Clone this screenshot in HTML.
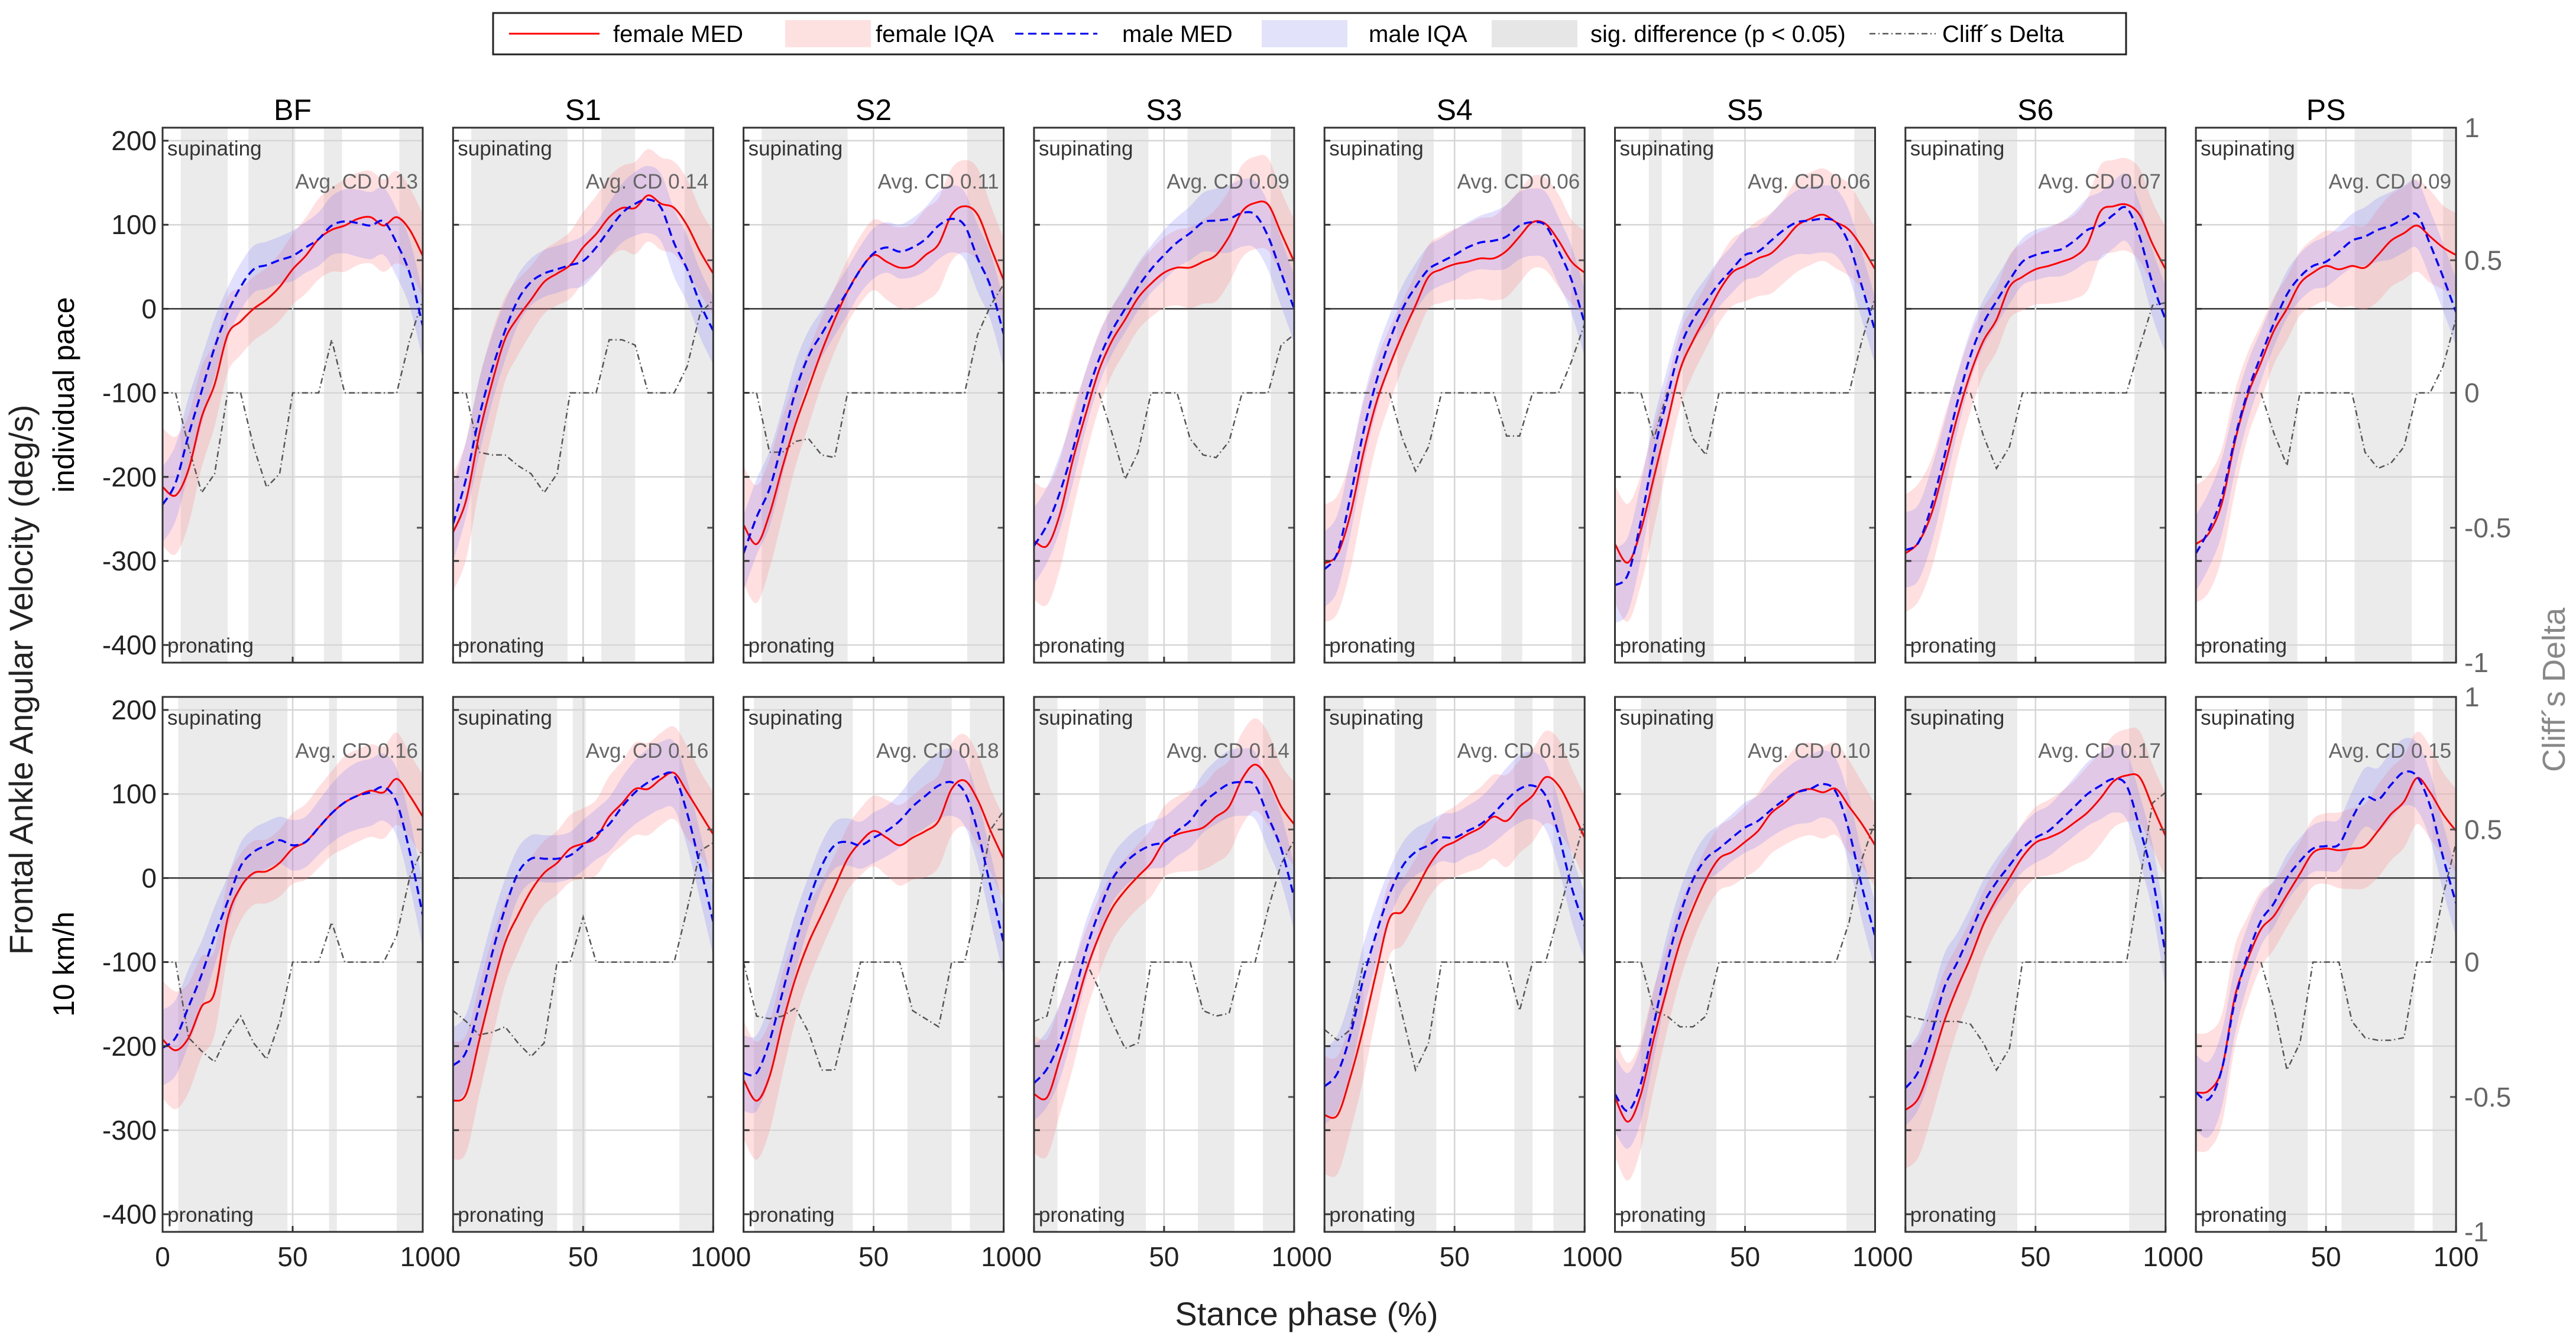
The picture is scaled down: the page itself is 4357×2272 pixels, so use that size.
<!DOCTYPE html>
<html><head><meta charset="utf-8"><title>Frontal Ankle Angular Velocity</title>
<style>
html,body{margin:0;padding:0;background:#fff;}
svg{display:block;font-family:"Liberation Sans",Arial,sans-serif;}
</style></head>
<body>
<svg id="chart" xmlns="http://www.w3.org/2000/svg" width="4357" height="2272" viewBox="0 0 4357 2272">
<rect x="0" y="0" width="4357" height="2272" fill="#fff"/>
<g>
<rect x="834" y="22" width="2762" height="70" fill="#fff" stroke="#222" stroke-width="3"/>
<line x1="861" y1="57" x2="1014" y2="57" stroke="#f00" stroke-width="3"/>
<text x="1037" y="71" font-size="40" fill="#000">female MED</text>
<rect x="1328" y="34" width="145" height="46" fill="#fde0e0"/>
<text x="1481" y="71" font-size="40" fill="#000">female IQA</text>
<line x1="1717" y1="57" x2="1856" y2="57" stroke="#00f" stroke-width="3" stroke-dasharray="14 8"/>
<text x="1898" y="71" font-size="40" fill="#000">male MED</text>
<rect x="2134" y="34" width="145" height="46" fill="#e2e2fb"/>
<text x="2315" y="71" font-size="40" fill="#000">male IQA</text>
<rect x="2523" y="34" width="145" height="46" fill="#e6e6e6"/>
<text x="2690" y="71" font-size="40" fill="#000">sig. difference (p &lt; 0.05)</text>
<line x1="3162" y1="57" x2="3274" y2="57" stroke="#555" stroke-width="2.5" stroke-dasharray="10 5 2 5"/>
<text x="3285" y="71" font-size="40" fill="#000">Cliff´s Delta</text>
</g>
<text x="55" y="1150" font-size="56" fill="#222" text-anchor="middle" transform="rotate(-90 55 1150)">Frontal Ankle Angular Velocity (deg/s)</text>
<text x="125" y="668" font-size="50" fill="#000" text-anchor="middle" transform="rotate(-90 125 668)">individual pace</text>
<text x="125" y="1631" font-size="50" fill="#000" text-anchor="middle" transform="rotate(-90 125 1631)">10  km/h</text>
<text x="4338" y="1167" font-size="54" fill="#888" text-anchor="middle" transform="rotate(-90 4338 1167)">Cliff´s Delta</text>
<text x="2210" y="2242" font-size="56" fill="#222" text-anchor="middle">Stance phase (%)</text>
<g id="plots"></g>
</svg>
<script>
const panelNames = ["BF","S1","S2","S3","S4","S5","S6","PS"];
const xPct = [0,5,10,15,20,25,30,35,40,45,50,55,60,65,70,75,80,85,90,95,100];
const yTicks = [200,100,0,-100,-200,-300,-400];
const cdTicks = [1,0.5,0,-0.5,-1];
const cdTickLabels = ["1","0.5","0","-0.5","-1"];
const xTicks = [0,50,100];
const avgCdRow1 = ["0.13","0.14","0.11","0.09","0.06","0.06","0.07","0.09"];
const avgCdRow2 = ["0.16","0.16","0.18","0.14","0.15","0.10","0.17","0.15"];
const femaleHalf = [70,70,65,60,50,45,40,38,38,40,42,45,48,50,55,55,55,55,55,50,50];
const maleHalf = [45,45,45,40,35,30,28,28,28,28,30,30,32,35,38,40,40,40,40,40,40];
const femaleMedRow1 = [
[-212,-222,-191,-129,-90,-31,-15,0,11,26,47,63,83,94,99,107,109,99,109,94,63],
[-266,-228,-150,-88,-36,-10,11,32,42,52,73,89,109,120,120,135,125,120,99,68,42],
[-257,-280,-244,-188,-137,-94,-51,-13,21,47,64,56,49,51,64,77,112,122,112,73,34],
[-276,-282,-244,-179,-124,-73,-38,-13,13,30,43,49,49,56,64,86,116,126,124,90,56],
[-303,-292,-244,-171,-111,-68,-30,4,38,47,53,56,60,60,69,86,103,101,81,56,43],
[-280,-302,-263,-200,-137,-73,-38,-9,21,43,51,60,66,81,99,107,112,103,94,73,47],
[-291,-278,-244,-188,-128,-77,-38,-13,26,38,47,51,56,62,77,116,122,124,112,77,47],
[-280,-267,-231,-158,-102,-64,-26,0,30,43,51,47,51,49,64,81,90,99,86,73,64]];
const maleMedRow1 = [
[-233,-207,-150,-98,-46,-5,26,47,52,58,63,73,83,99,104,102,99,104,78,42,-20],
[-256,-202,-129,-72,-26,11,32,42,47,52,57,73,94,114,125,130,120,78,47,6,-26],
[-291,-248,-214,-158,-98,-56,-30,-4,21,47,66,73,68,73,83,99,107,99,60,26,-30],
[-282,-257,-218,-167,-107,-60,-26,0,26,47,64,79,90,103,105,107,114,112,86,43,0],
[-310,-290,-223,-146,-86,-38,0,26,47,56,64,73,79,81,86,99,103,99,69,34,-17],
[-329,-316,-252,-171,-107,-47,-13,9,30,47,64,68,81,94,103,105,107,103,77,26,-26],
[-287,-278,-235,-175,-111,-56,-17,9,34,56,64,68,71,81,94,99,112,120,86,30,-13],
[-291,-263,-223,-154,-98,-56,-17,17,38,51,56,68,81,86,94,99,107,112,77,38,-4]];
const femaleMedRow2 = [
[-192,-205,-190,-153,-136,-48,-11,6,8,18,35,43,60,77,90,98,104,102,118,98,73],
[-265,-257,-194,-132,-77,-44,-15,6,18,35,41,48,73,89,106,106,118,125,102,77,52],
[-240,-265,-236,-173,-119,-77,-44,-11,23,43,56,48,39,48,56,68,106,116,93,56,23],
[-257,-261,-215,-165,-111,-69,-36,-15,2,18,43,52,56,60,73,85,118,135,118,85,64],
[-282,-282,-236,-178,-111,-48,-40,-15,14,35,43,52,60,73,68,85,98,120,110,81,48],
[-261,-290,-257,-190,-132,-77,-36,-2,23,31,43,56,77,89,102,106,102,106,85,64,39],
[-276,-262,-220,-170,-130,-95,-55,-25,0,25,42,48,55,66,78,95,115,122,120,85,50],
[-255,-253,-227,-141,-96,-61,-45,-20,5,30,35,33,35,38,56,76,91,119,102,76,56]];
const maleMedRow2 = [
[-202,-190,-153,-115,-69,-28,14,31,39,45,39,43,60,77,90,98,102,108,90,31,-44],
[-223,-207,-153,-90,-36,6,23,23,23,27,39,52,64,85,102,114,122,122,77,14,-52],
[-232,-232,-194,-136,-77,-28,14,39,43,39,48,56,68,85,98,110,114,102,56,-11,-77],
[-244,-227,-194,-144,-86,-40,-2,18,31,39,43,56,68,89,102,112,114,110,73,35,-23],
[-248,-232,-186,-119,-65,-19,14,31,39,48,48,56,64,77,93,106,110,98,52,-11,-57],
[-257,-277,-244,-173,-102,-44,-2,23,35,48,60,68,81,93,102,106,112,102,56,-11,-69],
[-250,-230,-185,-130,-100,-65,-30,-5,15,35,48,56,70,85,100,110,118,110,60,0,-91],
[-255,-263,-227,-146,-91,-51,-30,0,20,35,38,40,71,96,93,111,126,121,86,25,-30]];
const cliffsDeltaRow1 = [
[0,0,-0.2,-0.37,-0.3,0,0,-0.2,-0.35,-0.3,0,0,0,0.2,0,0,0,0,0,0.2,0.35],
[0,0,-0.22,-0.23,-0.23,-0.27,-0.3,-0.37,-0.3,0,0,0,0.2,0.2,0.18,0,0,0,0.1,0.3,0.35],
[0,0,-0.22,-0.22,-0.18,-0.17,-0.23,-0.24,0,0,0,0,0,0,0,0,0,0,0.22,0.33,0.41],
[0,0,0,0,0,0,-0.15,-0.32,-0.22,0,0,0,-0.17,-0.23,-0.24,-0.18,0,0,0,0.18,0.22],
[0,0,0,0,0,0,-0.17,-0.29,-0.2,0,0,0,0,0,-0.16,-0.16,0,0,0,0.12,0.26],
[0,0,0,-0.17,0,0,-0.17,-0.23,0,0,0,0,0,0,0,0,0,0,0,0.2,0.36],
[0,0,0,0,0,0,-0.16,-0.28,-0.2,0,0,0,0,0,0,0,0,0,0.17,0.33,0.34],
[0,0,0,0,0,0,-0.15,-0.27,0,0,0,0,0,-0.22,-0.28,-0.26,-0.2,0,0,0.1,0.28]];
const cliffsDeltaRow2 = [
[0,0,-0.28,-0.33,-0.37,-0.27,-0.2,-0.3,-0.36,-0.22,0,0,0,0.15,0,0,0,0,0.1,0.32,0.43],
[-0.18,-0.22,-0.27,-0.26,-0.24,-0.3,-0.35,-0.3,0,0,0.17,0,0,0,0,0,0,0,0.2,0.42,0.45],
[0,-0.2,-0.21,-0.2,-0.17,-0.26,-0.4,-0.4,-0.2,0,0,0,0,-0.18,-0.21,-0.24,0,0,0.22,0.5,0.57],
[-0.22,-0.2,0,0,0,-0.1,-0.22,-0.32,-0.3,0,0,0,0,-0.18,-0.2,-0.19,0,0,0.2,0.37,0.46],
[-0.25,-0.29,-0.25,0,0,0,-0.2,-0.4,-0.3,0,0,0,0,0,0,-0.18,0,0,0.18,0.36,0.53],
[0,0,0,-0.18,-0.2,-0.24,-0.24,-0.2,0,0,0,0,0,0,0,0,0,0,0.15,0.39,0.53],
[-0.2,-0.21,-0.22,-0.22,-0.22,-0.23,-0.3,-0.4,-0.32,0,0,0,0,0,0,0,0,0,0.3,0.6,0.64],
[0,0,0,0,0,0,-0.17,-0.4,-0.3,0,0,0,-0.22,-0.28,-0.29,-0.29,-0.28,0,0,0.25,0.45]];
const sigRow1 = [
[[7,25],[33,51],[62,69],[91,100]],[[7,44],[57,70],[89,100]],[[7,40],[86,100]],
[[28,44],[59,76],[91,100]],[[28,42],[68,76],[95,100]],[[13,18],[26,38],[92,100]],
[[28,43],[88,100]],[[28,39],[61,83],[95,100]]];
const sigRow2 = [
[[6,48],[64,67],[90,100]],[[0,40],[46,51],[87,100]],[[4,42],[63,80],[87,100]],
[[0,9],[25,43],[63,77],[88,100]],[[0,15],[27,43],[73,80],[88,100]],[[10,39],[89,100]],
[[0,43],[86,100]],[[28,43],[56,84],[91,100]]];

const NS = "http://www.w3.org/2000/svg";
const L0 = 275, PITCH = 491.3, PW = 440, PH = 905;
const ROWTOP = [216, 1179];
const VMAX = 215.5, VMIN = -421;
const plots = document.getElementById("plots");
function mk(tag, attrs, parent){ const e=document.createElementNS(NS,tag); for(const k in attrs) e.setAttribute(k,attrs[k]); (parent||plots).appendChild(e); return e; }
function xs(left,p){ return left + p/100*PW; }
function ys(top,v){ return top + (VMAX - v)/(VMAX-VMIN)*PH; }
function cdToV(c){ return c>=0 ? -100 + c*315.5 : -100 + c*321; }
function smooth(pts){
  let d = "M"+pts[0][0].toFixed(1)+","+pts[0][1].toFixed(1);
  for(let i=0;i<pts.length-1;i++){
    const p0=pts[i-1]||pts[i], p1=pts[i], p2=pts[i+1], p3=pts[i+2]||p2;
    const c1=[p1[0]+(p2[0]-p0[0])/6, p1[1]+(p2[1]-p0[1])/6];
    const c2=[p2[0]-(p3[0]-p1[0])/6, p2[1]-(p3[1]-p1[1])/6];
    d += " C"+c1[0].toFixed(1)+","+c1[1].toFixed(1)+" "+c2[0].toFixed(1)+","+c2[1].toFixed(1)+" "+p2[0].toFixed(1)+","+p2[1].toFixed(1);
  }
  return d;
}
function band(left,top,med,half){
  const up = xPct.map((p,i)=>[xs(left,p), ys(top,med[i]+half[i])]);
  const lo = xPct.map((p,i)=>[xs(left,p), ys(top,med[i]-half[i])]).reverse();
  return smooth(up) + " L" + smooth(lo).slice(1) + " Z";
}
const rows = [
 {fm:femaleMedRow1, mm:maleMedRow1, cd:cliffsDeltaRow1, sig:sigRow1, avg:avgCdRow1, key:"individual-pace"},
 {fm:femaleMedRow2, mm:maleMedRow2, cd:cliffsDeltaRow2, sig:sigRow2, avg:avgCdRow2, key:"10-kmh"}];
rows.forEach((row,r)=>{
  const top = ROWTOP[r];
  panelNames.forEach((name,c)=>{
    const left = L0 + c*PITCH;
    const g = mk("g",{});
    
    
    const cid = "clip"+r+"_"+c;
    const cp = mk("clipPath",{id:cid},g);
    mk("rect",{x:left,y:top,width:PW,height:PH},cp);
    row.sig[c].forEach(s=>{
      const e = mk("rect",{x:xs(left,s[0]),y:top,width:xs(left,s[1])-xs(left,s[0]),height:PH,fill:"#ebebeb"},g);
      
      
    });
    yTicks.forEach(v=>{
      const e = mk("line",{x1:left,x2:left+PW,y1:ys(top,v),y2:ys(top,v),stroke:v===0?"#333":"#d6d6d6","stroke-width":2.5},g);
      
      
    });
    const vg = mk("line",{x1:xs(left,50),x2:xs(left,50),y1:top,y2:top+PH,stroke:"#d6d6d6","stroke-width":2.5},g);
    
    
    const fb = mk("path",{d:band(left,top,row.fm[c],femaleHalf),fill:"rgba(255,140,140,0.28)","clip-path":"url(#"+cid+")"},g);
    
    
    const mb = mk("path",{d:band(left,top,row.mm[c],maleHalf),fill:"rgba(120,120,255,0.22)","clip-path":"url(#"+cid+")"},g);
    
    
    const cdPts = xPct.map((p,i)=>xs(left,p).toFixed(1)+","+ys(top,cdToV(row.cd[c][i])).toFixed(1)).join(" ");
    const cdl = mk("polyline",{points:cdPts,fill:"none",stroke:"#555","stroke-width":2.5,"stroke-dasharray":"10 5 2 5","clip-path":"url(#"+cid+")"},g);
    
    
    const fl = mk("path",{d:smooth(xPct.map((p,i)=>[xs(left,p),ys(top,row.fm[c][i])])),fill:"none",stroke:"#f00","stroke-width":3,"clip-path":"url(#"+cid+")"},g);
    
    
    const ml = mk("path",{d:smooth(xPct.map((p,i)=>[xs(left,p),ys(top,row.mm[c][i])])),fill:"none",stroke:"#00f","stroke-width":3.5,"stroke-dasharray":"14 8","clip-path":"url(#"+cid+")"},g);
    
    
    yTicks.forEach(v=>{ mk("line",{x1:left,x2:left+10,y1:ys(top,v),y2:ys(top,v),stroke:"#333","stroke-width":3},g); });
    cdTicks.forEach(t=>{ mk("line",{x1:left+PW-10,x2:left+PW,y1:ys(top,cdToV(t)),y2:ys(top,cdToV(t)),stroke:"#555","stroke-width":3},g); });
    xTicks.forEach(t=>{ mk("line",{x1:xs(left,t),x2:xs(left,t),y1:top+PH-10,y2:top+PH,stroke:"#333","stroke-width":3},g); });
    const fr = mk("rect",{x:left,y:top,width:PW,height:PH,fill:"none",stroke:"#333","stroke-width":3},g);
    
    
    const sup = mk("text",{x:left+8,y:top+47,"font-size":35,fill:"#333"},g);
    sup.textContent = "supinating";
    
    
    const pro = mk("text",{x:left+8,y:top+PH-17,"font-size":35,fill:"#333"},g);
    pro.textContent = "pronating";
    
    
    const av = mk("text",{x:left+PW-8,y:top+103,"font-size":35,fill:"#666","text-anchor":"end"},g);
    av.textContent = "Avg. CD " + row.avg[c];
    
    
    if(r===0){
      const tt = mk("text",{x:left+PW/2,y:203,"font-size":50,fill:"#000","text-anchor":"middle"},g);
      tt.textContent = name;
      
      
    }
    if(c===0){
      yTicks.forEach(v=>{
        const t = mk("text",{x:left-10,y:ys(top,v)+16,"font-size":46,fill:"#222","text-anchor":"end"},g);
        t.textContent = String(v);
        
        
      });
    }
    if(c===panelNames.length-1){
      cdTicks.forEach((t,i)=>{
        const e = mk("text",{x:left+PW+14,y:ys(top,cdToV(t))+16,"font-size":46,fill:"#666"},g);
        e.textContent = cdTickLabels[i];
        
        
      });
    }
    if(r===1){
      xTicks.forEach(t=>{
        const e = mk("text",{x:xs(left,t),y:top+PH+58,"font-size":46,fill:"#222","text-anchor":"middle"},g);
        e.textContent = String(t);
        
        
      });
    }
  });
});
</script>
</body></html>
